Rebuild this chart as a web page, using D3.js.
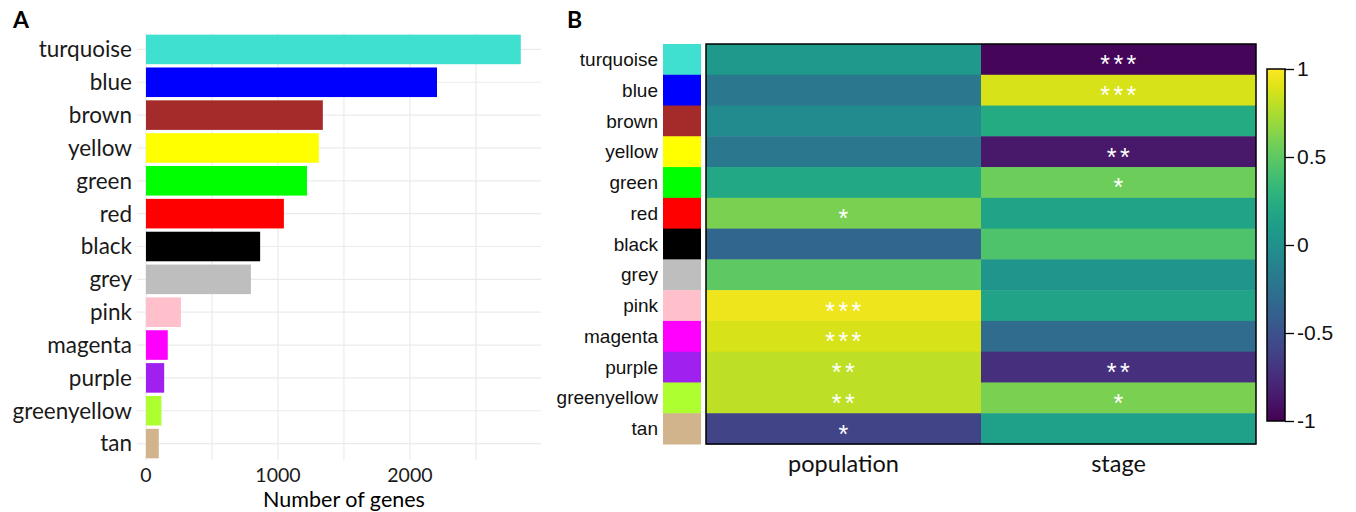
<!DOCTYPE html>
<html>
<head>
<meta charset="utf-8">
<script src="https://cdn.jsdelivr.net/npm/d3@7"></script>
<style>
  body { margin: 0; background: #fff; }
  svg { display: block; }
</style>
</head>
<body>
<svg id="chart" width="1356" height="512"></svg>
<script>
// module names and their colours
var modules = ['turquoise', 'blue', 'brown', 'yellow', 'green', 'red', 'black',
  'grey', 'pink', 'magenta', 'purple', 'greenyellow', 'tan'];
var moduleColors = ['#40E0D0', '#0000FF', '#A52A2A', '#FFFF00', '#00FF00', '#FF0000', '#000000',
  '#BEBEBE', '#FFC0CB', '#FF00FF', '#A020F0', '#ADFF2F', '#D2B48C'];

// panel A: number of genes per module
var geneCounts = [2840, 2205, 1340, 1310, 1220, 1045, 865, 795, 265, 165, 138, 117, 97];
var xTicks = [0, 1000, 2000];

// panel B: module-trait correlations
var traits = ['population', 'stage'];
var popCor = [0.08, -0.2, -0.04, -0.2, 0.2, 0.6, -0.35, 0.5, 0.95, 0.88, 0.8, 0.8, -0.6];
var stageCor = [-0.97, 0.88, 0.22, -0.87, 0.55, 0.16, 0.44, 0.04, 0.16, -0.3, -0.72, 0.6, 0.13];
var popSig = ['', '', '', '', '', '*', '', '', '***', '***', '**', '**', '*'];
var stageSig = ['***', '***', '', '**', '*', '', '', '', '', '', '**', '*', ''];
var colorbarTicks = [1, 0.5, 0, -0.5, -1];

var svg = d3.select('#chart');
var calibri = 'Lato, "Open Sans", sans-serif';
var arial = '"Liberation Sans", Arial, sans-serif';

//---------------- panel A ----------------
var x = d3.scaleLinear().domain([-68, 2993]).range([137, 541]);
var y = d3.scaleBand().domain(modules).range([33, 460]).paddingInner(0.1).paddingOuter(0.05);

var gA = svg.append('g');

// grid
gA.selectAll('.hgrid')
  .data(modules)
  .enter().append('line')
  .attr('x1', x.range()[0]).attr('x2', x.range()[1])
  .attr('y1', function (d) { return y(d) + y.bandwidth() / 2; })
  .attr('y2', function (d) { return y(d) + y.bandwidth() / 2; })
  .attr('stroke', '#ebebeb').attr('stroke-width', 1.2);

gA.selectAll('.vgrid')
  .data(d3.range(0, 3000, 500))
  .enter().append('line')
  .attr('x1', function (d) { return x(d); }).attr('x2', function (d) { return x(d); })
  .attr('y1', 33).attr('y2', 460)
  .attr('stroke', '#ebebeb').attr('stroke-width', 1.2);

// bars
gA.selectAll('rect')
  .data(geneCounts)
  .enter().append('rect')
  .attr('x', x(0))
  .attr('y', function (d, i) { return y(modules[i]); })
  .attr('width', function (d) { return x(d) - x(0); })
  .attr('height', y.bandwidth())
  .attr('fill', function (d, i) { return moduleColors[i]; });

// labels
gA.selectAll('.ylab')
  .data(modules)
  .enter().append('text')
  .attr('x', 132)
  .attr('y', function (d) { return y(d) + y.bandwidth() / 2; })
  .attr('dy', '0.35em')
  .attr('text-anchor', 'end')
  .attr('font-family', calibri).attr('font-size', 22.5).attr('fill', '#1a1a1a')
  .text(function (d) { return d; });

gA.selectAll('.xlab')
  .data(xTicks)
  .enter().append('text')
  .attr('x', function (d) { return x(d); })
  .attr('y', 482)
  .attr('text-anchor', 'middle')
  .attr('font-family', calibri).attr('font-size', 19.5).attr('fill', '#1a1a1a')
  .text(function (d) { return d; });

gA.append('text')
  .attr('x', 344).attr('y', 506.5)
  .attr('text-anchor', 'middle')
  .attr('font-family', calibri).attr('font-size', 21.5).attr('fill', '#000')
  .text('Number of genes');

svg.append('text').attr('x', 13).attr('y', 28)
  .attr('font-family', calibri).attr('font-weight', 'bold').attr('font-size', 23)
  .text('A');

//---------------- panel B ----------------
var color = d3.scaleSequential(d3.interpolateViridis).domain([-1, 1]);
var yB = d3.scaleBand().domain(modules).range([44, 444]);
var xB = d3.scaleBand().domain(traits).range([706, 1256]);

var gB = svg.append('g');

// module colour strip
gB.selectAll('.strip')
  .data(modules)
  .enter().append('rect')
  .attr('x', 663).attr('width', 38)
  .attr('y', function (d) { return yB(d); })
  .attr('height', yB.bandwidth() + 0.5)
  .attr('fill', function (d, i) { return moduleColors[i]; });

gB.selectAll('.rowlab')
  .data(modules)
  .enter().append('text')
  .attr('x', 658)
  .attr('y', function (d) { return yB(d) + yB.bandwidth() / 2; })
  .attr('dy', '0.35em')
  .attr('text-anchor', 'end')
  .attr('font-family', arial).attr('font-size', 19).attr('fill', '#111')
  .text(function (d) { return d; });

// cells
var cols = [popCor, stageCor];
var sigs = [popSig, stageSig];
traits.forEach(function (t, j) {
  gB.selectAll('.cell' + j)
    .data(cols[j])
    .enter().append('rect')
    .attr('x', xB(t))
    .attr('y', function (d, i) { return yB(modules[i]); })
    .attr('width', xB.bandwidth())
    .attr('height', yB.bandwidth() + 0.5)
    .attr('fill', function (d) { return color(d); });

  gB.selectAll('.sig' + j)
    .data(sigs[j])
    .enter().append('text')
    .attr('x', xB(t) + xB.bandwidth() / 2 + 1.5)
    .attr('y', function (d, i) { return yB(modules[i]) + yB.bandwidth() / 2; })
    .attr('dy', '0.56em')
    .attr('text-anchor', 'middle')
    .attr('letter-spacing', 3.5)
    .attr('font-family', arial).attr('font-size', 25).attr('fill', '#fff')
    .text(function (d) { return d; });

  gB.append('text')
    .attr('x', xB(t) + xB.bandwidth() / 2)
    .attr('y', 472)
    .attr('text-anchor', 'middle')
    .attr('font-family', calibri).attr('font-size', 23.5).attr('fill', '#111')
    .text(t);
});

gB.append('rect')
  .attr('x', 706).attr('y', 44).attr('width', 550).attr('height', 400)
  .attr('fill', 'none').attr('stroke', '#000').attr('stroke-width', 1.5);

svg.append('text').attr('x', 567).attr('y', 28)
  .attr('font-family', calibri).attr('font-weight', 'bold').attr('font-size', 23)
  .text('B');

// colour bar
var cb = d3.scaleLinear().domain([-1, 1]).range([421, 69]);
var grad = svg.append('defs').append('linearGradient')
  .attr('id', 'vir').attr('x1', 0).attr('y1', 1).attr('x2', 0).attr('y2', 0);
d3.range(0, 1.0001, 0.05).forEach(function (t) {
  grad.append('stop').attr('offset', t).attr('stop-color', d3.interpolateViridis(t));
});
svg.append('rect')
  .attr('x', 1267).attr('y', cb(1)).attr('width', 18).attr('height', cb(-1) - cb(1))
  .attr('fill', 'url(#vir)').attr('stroke', '#000').attr('stroke-width', 1.5);

var cbAxis = svg.append('g')
  .attr('transform', 'translate(1285,0)')
  .call(d3.axisRight(cb).tickValues(colorbarTicks).tickSize(9).tickPadding(3)
    .tickFormat(function (d) { return String(d); }));
cbAxis.select('.domain').remove();
cbAxis.selectAll('line').attr('stroke', '#000').attr('stroke-width', 1.3);
cbAxis.selectAll('text')
  .attr('font-family', arial).attr('font-size', 21).attr('fill', '#111');
</script>
</body>
</html>
